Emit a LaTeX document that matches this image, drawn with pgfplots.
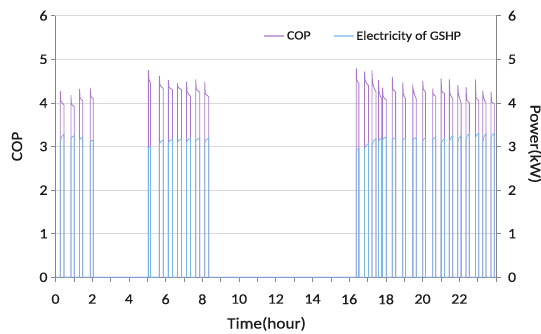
\documentclass[border=0pt]{standalone}
\usepackage{fontspec}
\setmainfont{Carlito}[FakeStretch=1.1, FakeBold=0.4]
\usepackage{pgfplots}
\pgfplotsset{compat=1.18}
\definecolor{copc}{HTML}{A777CC}
\definecolor{copl}{HTML}{C7A6E0}
\definecolor{elc}{HTML}{78B6E6}
\definecolor{ell}{HTML}{A6D0F0}
\definecolor{gridc}{HTML}{D9D9D9}
\definecolor{axc}{HTML}{868686}
\definecolor{txt}{HTML}{1A1A1A}
\pgfplotsset{
  common/.style={
    at={(0bp,0bp)}, anchor=south west, scale only axis,
    width=440.5bp, height=261.6bp,
    xmin=0, xmax=24, ymin=0, ymax=6,
    ytick={0,...,6},
    tick align=outside,
    major tick length=4.5bp,
    tick style={axc, line width=0.6bp},
    axis line style={axc, line width=0.8bp},
    /pgf/number format/assume math mode=true,
    tick label style={font=\fontsize{14.5}{16}\selectfont, text=txt},
    label style={font=\fontsize{15.8}{18}\selectfont, text=txt},
  }
}
\begin{document}
\begin{tikzpicture}
\path[use as bounding box] (-55.5bp,-56.7bp) rectangle (485.5bp,277.3bp);
\begin{axis}[common,
  axis x line*=bottom, axis y line*=left,
  xtick={0,...,24},
  xticklabels={0,,2,,4,,6,,8,,10,,12,,14,,16,,18,,20,,22,,},
  xticklabel style={yshift=-9bp},
  ymajorgrids, grid style={gridc, line width=0.7bp},
  ylabel={COP}, xlabel={Time(hour)},
  ylabel style={at={(axis description cs:-0.0874,0.5)}, anchor=center},
  xlabel style={at={(axis description cs:0.479,-0.178)}, anchor=center},
  legend style={at={(0.471,0.922)}, anchor=west, draw=none, fill=none,
    inner xsep=0bp, inner ysep=0bp,
    nodes={inner xsep=2bp, draw=none},
    font=\fontsize{12.7}{15}\selectfont, text=txt, legend columns=2,
    /tikz/every even column/.append style={column sep=20bp}},
  legend image code/.code={\draw[#1] (0bp,0bp) -- (20bp,0bp);},
]
\addplot[copc, line width=0.8bp, legend image post style={copl, line width=1.8bp}] coordinates {
(0,0)
(0.26,0)(0.26,4.28)(0.29,4.05)(0.36,4.0)(0.46,3.96)(0.46,0)
(0.84,0)(0.84,4.18)(0.87,3.97)(0.94,3.94)(1.02,3.92)(1.02,0)
(1.31,0)(1.31,4.32)(1.34,4.12)(1.40,4.08)(1.49,4.05)(1.49,0)
(1.89,0)(1.89,4.35)(1.92,4.15)(1.98,4.12)(2.06,4.1)(2.06,0)
(5.06,0)(5.06,4.75)(5.09,4.55)(5.13,4.5)(5.18,4.45)(5.18,0)
(5.66,0)(5.66,4.62)(5.69,4.42)(5.77,4.37)(5.87,4.33)(5.87,0)
(6.15,0)(6.15,4.52)(6.18,4.36)(6.27,4.33)(6.38,4.3)(6.38,0)
(6.65,0)(6.65,4.45)(6.68,4.36)(6.76,4.33)(6.87,4.3)(6.87,0)
(7.14,0)(7.14,4.48)(7.17,4.26)(7.25,4.2)(7.36,4.15)(7.36,0)
(7.64,0)(7.64,4.54)(7.67,4.32)(7.75,4.28)(7.86,4.25)(7.86,0)
(8.13,0)(8.13,4.48)(8.16,4.22)(8.24,4.18)(8.35,4.14)(8.35,0)
(16.39,0)(16.39,4.79)(16.42,4.52)(16.47,4.48)(16.53,4.45)(16.53,0)
(16.84,0)(16.84,4.72)(16.87,4.52)(16.95,4.45)(17.05,4.4)(17.05,0)
(17.24,0)(17.24,4.75)(17.27,4.48)(17.35,4.35)(17.46,4.26)(17.46,0)
(17.60,0)(17.60,4.52)(17.63,4.26)(17.70,4.15)(17.78,4.1)(17.78,0)
(17.82,0)(17.82,4.35)(17.85,4.16)(17.92,4.1)(18.02,4.07)(18.02,0)
(18.35,0)(18.35,4.6)(18.38,4.32)(18.45,4.28)(18.53,4.25)(18.53,0)
(18.92,0)(18.92,4.47)(18.95,4.22)(19.0,4.15)(19.07,4.1)(19.07,0)
(19.47,0)(19.47,4.36)(19.5,4.3)(19.57,4.18)(19.65,4.1)(19.65,0)
(20.01,0)(20.01,4.51)(20.04,4.32)(20.1,4.28)(20.16,4.25)(20.16,0)
(20.55,0)(20.55,4.33)(20.58,4.2)(20.65,4.17)(20.72,4.15)(20.72,0)
(21.01,0)(21.01,4.56)(21.04,4.27)(21.1,4.24)(21.19,4.22)(21.19,0)
(21.46,0)(21.46,4.54)(21.49,4.22)(21.56,4.15)(21.64,4.1)(21.64,0)
(21.92,0)(21.92,4.41)(21.95,4.22)(22.02,4.1)(22.10,4.0)(22.10,0)
(22.37,0)(22.37,4.36)(22.40,4.08)(22.47,4.03)(22.55,4.0)(22.55,0)
(22.88,0)(22.88,4.54)(22.91,4.12)(22.98,4.08)(23.06,4.05)(23.06,0)
(23.28,0)(23.28,4.28)(23.31,4.15)(23.38,4.05)(23.46,4.0)(23.46,0)
(23.73,0)(23.73,4.26)(23.76,4.02)(23.83,4.0)(23.91,3.98)(23.91,0)
(24,0)
};
\addlegendentry{COP}
\addplot[elc, line width=0.8bp, legend image post style={ell, line width=1.8bp}] coordinates {
(0,0)
(0.26,0)(0.26,3.1)(0.33,3.22)(0.46,3.28)(0.46,0)
(0.84,0)(0.84,3.18)(0.90,3.22)(1.02,3.25)(1.02,0)
(1.31,0)(1.31,3.15)(1.37,3.19)(1.49,3.22)(1.49,0)
(1.89,0)(1.89,3.1)(1.95,3.13)(2.06,3.15)(2.06,0)
(5.06,0)(5.06,2.95)(5.10,2.98)(5.18,3.0)(5.18,0)
(5.66,0)(5.66,3.05)(5.73,3.11)(5.87,3.15)(5.87,0)
(6.15,0)(6.15,3.08)(6.22,3.13)(6.38,3.17)(6.38,0)
(6.65,0)(6.65,3.1)(6.72,3.14)(6.87,3.18)(6.87,0)
(7.14,0)(7.14,3.1)(7.21,3.15)(7.36,3.2)(7.36,0)
(7.64,0)(7.64,3.12)(7.71,3.16)(7.86,3.2)(7.86,0)
(8.13,0)(8.13,3.1)(8.20,3.15)(8.35,3.2)(8.35,0)
(16.39,0)(16.39,2.92)(16.45,2.94)(16.53,2.95)(16.53,0)
(16.84,0)(16.84,2.95)(16.91,3.02)(17.05,3.07)(17.05,0)
(17.24,0)(17.24,3.03)(17.31,3.12)(17.46,3.18)(17.46,0)
(17.60,0)(17.60,3.12)(17.66,3.16)(17.78,3.2)(17.78,0)
(17.82,0)(17.82,3.15)(17.88,3.19)(18.02,3.22)(18.02,0)
(18.35,0)(18.35,3.15)(18.41,3.18)(18.53,3.2)(18.53,0)
(18.92,0)(18.92,3.15)(18.97,3.17)(19.07,3.18)(19.07,0)
(19.47,0)(19.47,3.15)(19.53,3.18)(19.65,3.2)(19.65,0)
(20.01,0)(20.01,3.12)(20.06,3.17)(20.16,3.2)(20.16,0)
(20.55,0)(20.55,3.15)(20.61,3.19)(20.72,3.22)(20.72,0)
(21.01,0)(21.01,3.05)(21.07,3.13)(21.19,3.18)(21.19,0)
(21.46,0)(21.46,3.1)(21.52,3.19)(21.64,3.25)(21.64,0)
(21.92,0)(21.92,3.1)(21.98,3.19)(22.10,3.25)(22.10,0)
(22.37,0)(22.37,3.15)(22.43,3.24)(22.55,3.3)(22.55,0)
(22.88,0)(22.88,3.2)(22.94,3.26)(23.06,3.3)(23.06,0)
(23.28,0)(23.28,3.1)(23.34,3.22)(23.46,3.3)(23.46,0)
(23.73,0)(23.73,3.2)(23.79,3.26)(23.91,3.3)(23.91,0)
(24,0)
};
\addlegendentry{Electricity of GSHP}
\end{axis}
\begin{axis}[common,
  axis x line=none, axis y line*=right,
  yticklabel style={xshift=4bp},
  ylabel={Power(kW)},
  ylabel style={at={(axis description cs:1.0885,0.51)}, anchor=center, rotate=180},
]
\addplot[draw=none] coordinates {(0,0)};
\end{axis}
\end{tikzpicture}
\end{document}
